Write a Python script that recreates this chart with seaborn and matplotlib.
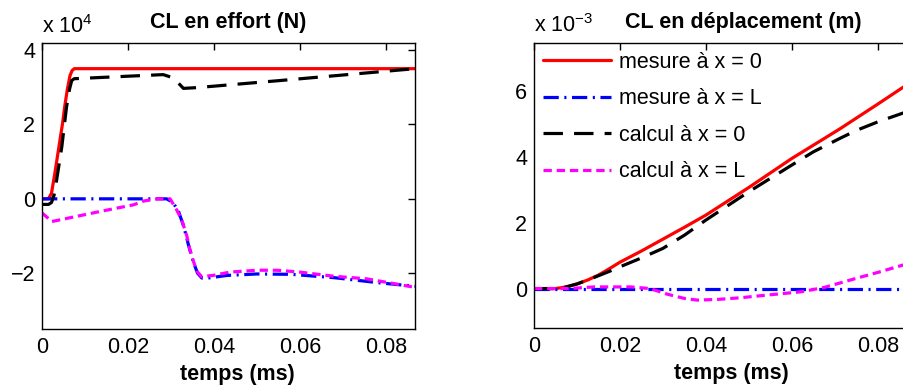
import pandas as pd
import matplotlib.pyplot as plt
import seaborn as sns
from matplotlib.ticker import FuncFormatter

# ---- left panel: CL en effort (N) ----
t_f_mes0 = [0, 0.0015, 0.0022, 0.003, 0.0036, 0.0042, 0.0048, 0.0053, 0.0059, 0.0065, 0.0070, 0.0075, 0.0868]
f_mes0 = [0, 0, 1500, 7000, 11500, 16000, 20500, 25000, 29500, 33100, 34500, 35000, 35000]

t_f_cal0 = [0, 0.0015, 0.0022, 0.0028, 0.0034, 0.0046, 0.0057, 0.0064, 0.0069, 0.0075,
            0.0205, 0.0282, 0.0306, 0.0329, 0.036, 0.0553, 0.0868]
f_cal0 = [-1500, -1500, -1000, 1000, 5100, 14000, 24700, 29500, 31800, 32300,
          33000, 33400, 32500, 29700, 29900, 31800, 35000]

t_f_mesL = [0, 0.029, 0.0305, 0.0318, 0.033, 0.0341, 0.0352, 0.0362, 0.0372, 0.038,
            0.043, 0.050, 0.058, 0.068, 0.0786, 0.0868]
f_mesL = [0, 0, -1000, -3500, -7500, -12500, -17000, -20000, -21300, -21400,
          -20600, -20200, -20300, -21200, -22600, -23500]

t_f_calL = [0, 0.0023, 0.0135, 0.0213, 0.0236, 0.0268, 0.0298, 0.0313, 0.0325, 0.0337, 0.0344,
            0.0352, 0.036, 0.0371, 0.0398, 0.0437, 0.050, 0.0547, 0.060, 0.0678, 0.0755, 0.0868]
f_calL = [-3800, -6100, -3400, -1600, -600, 0, 0, -2900, -5600, -10000, -13600,
          -16700, -19400, -20900, -20600, -19700, -19200, -19200, -19700, -20800, -21500, -23800]

# ---- right panel: CL en déplacement (m) ----
t_d_mes0 = [0, 0.005, 0.0075, 0.01, 0.0125, 0.015, 0.0175, 0.02, 0.025, 0.03, 0.035, 0.04,
            0.05, 0.06, 0.0712, 0.08, 0.0868]
d_mes0 = [0, 0, 0.05e-3, 0.14e-3, 0.26e-3, 0.41e-3, 0.6e-3, 0.8e-3, 1.14e-3, 1.5e-3, 1.86e-3, 2.23e-3,
          3.07e-3, 3.95e-3, 4.85e-3, 5.6e-3, 6.19e-3]

t_d_cal0 = [0, 0.005, 0.0075, 0.01, 0.0125, 0.015, 0.0175, 0.02, 0.025, 0.03, 0.035, 0.04,
            0.05, 0.06, 0.065, 0.0712, 0.075, 0.08, 0.0868]
d_cal0 = [0, 0, 0.05e-3, 0.14e-3, 0.26e-3, 0.39e-3, 0.52e-3, 0.66e-3, 0.93e-3, 1.22e-3, 1.62e-3, 2.08e-3,
          2.94e-3, 3.75e-3, 4.15e-3, 4.56e-3, 4.8e-3, 5.06e-3, 5.37e-3]

t_d_mesL = [0, 0.0868]
d_mesL = [0, 0]

t_d_calL = [0, 0.008, 0.014, 0.0225, 0.027, 0.031, 0.035, 0.038, 0.0426, 0.048, 0.054,
            0.062, 0.0674, 0.0712, 0.0755, 0.08, 0.0868]
d_calL = [0, 0, 0.05e-3, 0.05e-3, 0, -0.17e-3, -0.3e-3, -0.35e-3, -0.33e-3, -0.28e-3, -0.2e-3,
          -0.1e-3, 0.03e-3, 0.17e-3, 0.33e-3, 0.49e-3, 0.75e-3]

labels = ['mesure à x = 0', 'mesure à x = L', 'calcul à x = 0', 'calcul à x = L']
colors = ['#ff0000', '#0000ff', '#000000', '#ff00ff']
styles = ['-', (0, (11, 4, 1.5, 4)), (0, (14, 8)), (0, (6, 3.5))]

sns.set_theme(style='white')
plt.rcParams['font.family'] = ['Liberation Sans', 'DejaVu Sans']
plt.rcParams['mathtext.fontset'] = 'custom'
plt.rcParams['mathtext.rm'] = 'Liberation Sans'
plt.rcParams['lines.scale_dashes'] = False
plt.rcParams['text.color'] = 'black'
plt.rcParams['axes.labelcolor'] = 'black'
FS = 15.5

fig = plt.figure(figsize=(9.04, 3.92), dpi=100)
ax1 = fig.add_axes([0.0465, 0.1607, 0.4126, 0.7296])
ax2 = fig.add_axes([0.5907, 0.163, 0.416, 0.727])

left_series = [(t_f_mes0, f_mes0), (t_f_mesL, f_mesL), (t_f_cal0, f_cal0), (t_f_calL, f_calL)]
right_series = [(t_d_mes0, d_mes0), (t_d_mesL, d_mesL), (t_d_cal0, d_cal0), (t_d_calL, d_calL)]

for ax, series in [(ax1, left_series), (ax2, right_series)]:
    for (t, v), lab, c, ls in zip(series, labels, colors, styles):
        df = pd.DataFrame({'t': t, 'v': v})
        sns.lineplot(data=df, x='t', y='v', ax=ax, color=c, linestyle=ls,
                     linewidth=2.3, label=lab, legend=False)
    ax.set_xticks([0, 0.02, 0.04, 0.06, 0.08])
    ax.xaxis.set_major_formatter(FuncFormatter(lambda v, p: f'{v:g}'))
    ax.set_ylabel('')
    ax.set_xlabel('temps (ms)', fontsize=FS, fontweight='bold', x=0.525, labelpad=4)
    ax.tick_params(direction='in', top=True, right=True, length=5, width=1,
                   labelsize=FS, pad=5, colors='black')
    ax.tick_params(axis='x', pad=6)
    for s in ax.spines.values():
        s.set_color('black')
        s.set_linewidth(1.0)

ax1.set_xlim(0, 0.0868)
ax1.set_ylim(-35000, 41900)
ax1.set_yticks([-20000, 0, 20000, 40000])
ax1.yaxis.set_major_formatter(FuncFormatter(lambda v, p: f'{v / 1e4:g}'.replace('-', '\u2212')))
ax1.set_title('CL en effort (N)', fontsize=FS, fontweight='bold', pad=11)
ax1.text(0.0, 1.035, r'x 10$^{4}$', transform=ax1.transAxes, fontsize=FS, ha='left', va='baseline')

ax2.set_xlim(0, 0.0875)
ax2.set_ylim(-1.2e-3, 7.45e-3)
ax2.set_yticks([0, 2e-3, 4e-3, 6e-3])
ax2.yaxis.set_major_formatter(FuncFormatter(lambda v, p: f'{v * 1e3:g}'.replace('-', '\u2212')))
ax2.set_title('CL en déplacement (m)', fontsize=FS, fontweight='bold', pad=11, x=0.557)
ax2.text(0.0, 1.04, r'x 10$^{-3}$', transform=ax2.transAxes, fontsize=FS, ha='left', va='baseline')

ax2.legend(loc='upper left', frameon=False, fontsize=FS, handlelength=3.2,
           handletextpad=0.35, labelspacing=0.72, borderaxespad=0.2, borderpad=0.2)

fig.savefig('out.png', dpi=100)
